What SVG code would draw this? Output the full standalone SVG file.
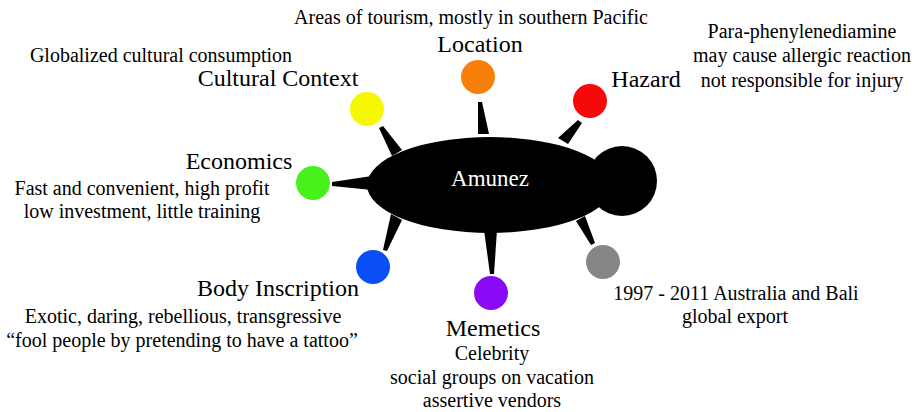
<svg xmlns="http://www.w3.org/2000/svg" width="914" height="412" viewBox="0 0 914 412">
<style>
.t{font-family:"Liberation Serif","Times New Roman",serif;fill:#000;text-anchor:middle}
.h{font-size:24px}
.d{font-size:20px}
.spike{fill:#000}
</style>
<rect width="914" height="412" fill="#fff"/>
<g id="connectors">
<polygon class="spike" points="379,128 383,126 402,150 392,156"/>
<polygon class="spike" points="478,102 482,102 489,134 478,134"/>
<polygon class="spike" points="578,120 582,123 568,144 558,138"/>
<polygon class="spike" points="332,182 332,186 372,190 372,176"/>
<polygon class="spike" points="383,250 387,251 402,220 391,214"/>
<polygon class="spike" points="490,274 494,274 497,230 484,230"/>
<polygon class="spike" points="591,245 595,243 585,216 576,221"/>
</g>
<g id="amunez">
<circle cx="622" cy="181" r="35" fill="#000"/>
<ellipse cx="490" cy="185" rx="123" ry="48" fill="#000"/>
<text class="t" x="490" y="186" font-size="23" style="fill:#fff">Amunez</text>
</g>
<g id="cultural-context">
<circle cx="367" cy="109" r="17" fill="#f7f700"/>
<text class="t d" x="161" y="62">Globalized cultural consumption</text>
<text class="t h" x="278" y="86">Cultural Context</text>
</g>
<g id="location">
<circle cx="478" cy="77" r="17" fill="#f87f0a"/>
<text class="t d" x="471" y="24">Areas of tourism, mostly in southern Pacific</text>
<text class="t h" x="480" y="52">Location</text>
</g>
<g id="hazard">
<circle cx="590" cy="101" r="17" fill="#f50a0a"/>
<text class="t h" x="646" y="87">Hazard</text>
<text class="t d" x="802" y="38">Para-phenylenediamine</text>
<text class="t d" x="802" y="62">may cause allergic reaction</text>
<text class="t d" x="802" y="87">not responsible for injury</text>
</g>
<g id="economics">
<circle cx="313" cy="183" r="17" fill="#47f21c"/>
<text class="t h" x="239" y="169">Economics</text>
<text class="t d" x="142" y="195">Fast and convenient, high profit</text>
<text class="t d" x="142" y="218">low investment, little training</text>
</g>
<g id="body-inscription">
<circle cx="373" cy="267" r="17" fill="#0a4ff5"/>
<text class="t h" x="278" y="296">Body Inscription</text>
<text class="t d" x="183" y="323">Exotic, daring, rebellious, transgressive</text>
<text class="t d" x="182" y="347">“fool people by pretending to have a tattoo”</text>
</g>
<g id="memetics">
<circle cx="491" cy="293" r="17" fill="#8a0af5"/>
<text class="t h" x="493" y="336">Memetics</text>
<text class="t d" x="492" y="360">Celebrity</text>
<text class="t d" x="492" y="384">social groups on vacation</text>
<text class="t d" x="492" y="407">assertive vendors</text>
</g>
<g id="history">
<circle cx="603" cy="262" r="17" fill="#878585"/>
<text class="t d" x="736" y="300">1997 - 2011 Australia and Bali</text>
<text class="t d" x="735" y="323">global export</text>
</g>
</svg>
